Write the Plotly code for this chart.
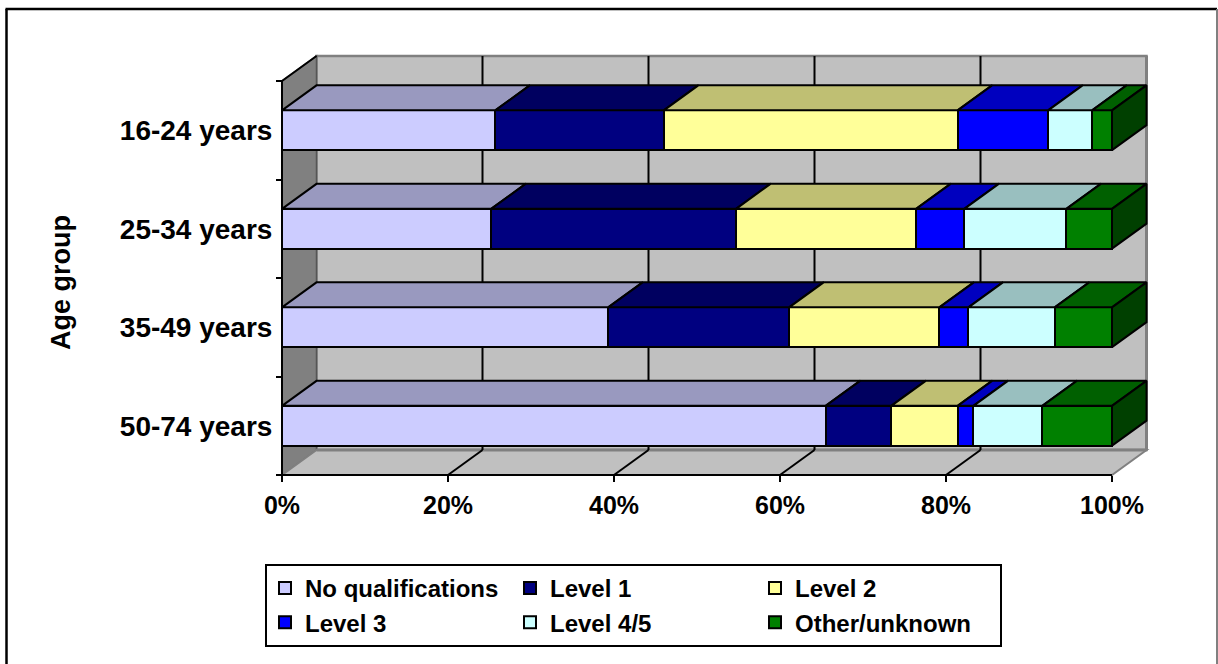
import plotly.graph_objects as go

categories = ["50-74 years", "35-49 years", "25-34 years", "16-24 years"]
series_names = ["No qualifications", "Level 1", "Level 2", "Level 3", "Level 4/5", "Other/unknown"]
legend_columns = ["col1", "col2", "col3", "col1", "col2", "col3"]
no_qual = [65.5, 39.3, 25.2, 25.7]
level1 = [7.9, 21.8, 29.5, 20.3]
level2 = [8.0, 18.1, 21.7, 35.4]
level3 = [1.9, 3.5, 5.8, 10.9]
level45 = [8.3, 10.4, 12.3, 5.3]
other = [8.4, 6.9, 5.5, 2.4]
series_values = [no_qual, level1, level2, level3, level45, other]
x_ticks = [0, 20, 40, 60, 80, 100]
x_labels = ["0%", "20%", "40%", "60%", "80%", "100%"]
y_title = "Age group"

front_colors = ["#CCCCFF", "#000080", "#FFFF99", "#0000FF", "#CCFFFF", "#008000"]
top_colors = ["#9999BF", "#000060", "#BFBF73", "#0000BF", "#99BFBF", "#006000"]
side_color = "#004000"
WALL = "#C0C0C0"
LEFT_WALL = "#808080"
FONT = "Liberation Sans"
LW = 2

W, H = 1218, 664
X0, X100, Y0, Y4 = 282, 1112, 475, 81
PX_X = (X100 - X0) / 100
PX_Y = (Y0 - Y4) / 4
DX = 34.5 / PX_X   # depth along x, in axis units
DY = 25 / PX_Y     # depth along y, in axis units
BAR_W = 0.404
positions = [i + 0.5 for i in range(len(categories))]

fig = go.Figure()

# stacked front faces
for name, vals, col, grp in zip(series_names, series_values, front_colors, legend_columns):
    fig.add_trace(go.Bar(
        y=positions, x=vals, name=name, orientation="h", width=BAR_W, legendgroup=grp,
        marker=dict(color=col, line=dict(color="black", width=LW)),
        customdata=categories, hovertemplate="%{customdata}: %{x}%<extra>" + name + "</extra>",
    ))

# top faces
cum = [0.0] * len(categories)
for vals, col in zip(series_values, top_colors):
    xs, ys = [], []
    for i, v in enumerate(vals):
        t = positions[i] + BAR_W / 2
        a, b = cum[i], cum[i] + v
        xs += [a, b, b + DX, a + DX, a, None]
        ys += [t, t, t + DY, t + DY, t, None]
        cum[i] = b
    fig.add_trace(go.Scatter(x=xs, y=ys, mode="lines", fill="toself", fillcolor=col,
                             line=dict(color="black", width=LW), showlegend=False, hoverinfo="skip"))

# right end faces
xs, ys = [], []
for i in range(len(categories)):
    t, b = positions[i] + BAR_W / 2, positions[i] - BAR_W / 2
    e = cum[i]
    xs += [e, e + DX, e + DX, e, e, None]
    ys += [t, t + DY, b + DY, b, t, None]
fig.add_trace(go.Scatter(x=xs, y=ys, mode="lines", fill="toself", fillcolor=side_color,
                         line=dict(color="black", width=LW), showlegend=False, hoverinfo="skip"))

# 3-D box behind the bars
shapes = []
def poly(px, py, fill, line, lw=1.5):
    path = "M " + " L ".join(f"{a},{b}" for a, b in zip(px, py)) + " Z"
    shapes.append(dict(type="path", path=path, xref="x", yref="y", fillcolor=fill,
                       line=dict(color=line, width=lw), layer="below"))
def seg(a, b, c, d, col="black", lw=LW):
    shapes.append(dict(type="line", x0=a, y0=b, x1=c, y1=d, xref="x", yref="y",
                       line=dict(color=col, width=lw), layer="below"))
def frame(a, b, c, d, col, lw=2):
    shapes.append(dict(type="line", x0=a / W, y0=1 - b / H, x1=c / W, y1=1 - d / H, xref="paper", yref="paper",
                       line=dict(color=col, width=lw), layer="below"))

n = len(categories)
poly([DX, 100 + DX, 100 + DX, DX], [DY, DY, n + DY, n + DY], WALL, LEFT_WALL, 2.5)
poly([0, DX, DX, 0], [0, DY, n + DY, n], LEFT_WALL, "#555555", 1.5)
poly([0, 100, 100 + DX, DX], [0, 0, DY, DY], WALL, LEFT_WALL, 2)
seg(DX, DY, 100 + DX, DY, LEFT_WALL, 3)
seg(100 + DX, DY, 100 + DX, n + DY, LEFT_WALL, 3)
for t in x_ticks[1:-1]:
    seg(t + DX, DY, t + DX, n + DY)
    seg(t, 0, t + DX, DY)
seg(0, 0, 100, 0)
seg(0, 0, 0, n)
seg(0, n, DX, n + DY)

# outer chart frame
frame(6.5, 9, 6.5, H, "black", 2.5)
frame(5.5, 9, 1217, 9, "black", 2.5)
frame(1217, 9, 1217, H, "#808080", 2)

fig.update_layout(
    width=W, height=H, margin=dict(l=0, r=0, t=0, b=0, pad=0, autoexpand=False),
    paper_bgcolor="white", plot_bgcolor="white",
    barmode="stack", bargap=0, font=dict(family=FONT, size=25, color="black"),
    shapes=shapes,
    xaxis=dict(domain=[0, 1], range=[-X0 / PX_X, (W - X0) / PX_X], showgrid=False, zeroline=False,
               tickmode="array", tickvals=x_ticks, ticktext=x_labels, ticks="outside", ticklen=6, tickwidth=LW,
               tickcolor="black", tickfont=dict(family=FONT, size=25, color="black", weight="bold"),
               anchor="free", position=(H - Y0) / H, ticklabelstandoff=2, showline=False),
    yaxis=dict(domain=[0, 1], range=[-(H - Y0) / PX_Y, Y0 / PX_Y], showgrid=False, zeroline=False,
               tickmode="array", tickvals=positions, ticktext=categories, ticks="outside", ticklen=4,
               tickcolor="rgba(0,0,0,0)", tickfont=dict(family=FONT, size=28, color="black", weight="bold"),
               minor=dict(tickmode="array", tickvals=list(range(n + 1)), ticks="outside", ticklen=6, tickwidth=LW, tickcolor="black"),
               anchor="free", position=X0 / W, showline=False),
    legend=dict(orientation="h", traceorder="grouped", x=265 / W, y=1 - 564 / H, xanchor="left", yanchor="top",
                bgcolor="white", bordercolor="black", borderwidth=2,
                font=dict(family=FONT, size=24, color="black", weight="bold"),
                itemwidth=30, tracegroupgap=0, entrywidth=200),
    annotations=[dict(text="<b>" + y_title + "</b>", textangle=-90, xref="x", yref="y",
                      x=(61 - X0) / PX_X, y=(Y0 - 283) / PX_Y, showarrow=False,
                      font=dict(family=FONT, size=27, color="black"))],
)
fig.write_html("out.html", config=dict(displayModeBar=False),
               post_script="document.body.style.margin='0';document.body.style.overflow='hidden';")
